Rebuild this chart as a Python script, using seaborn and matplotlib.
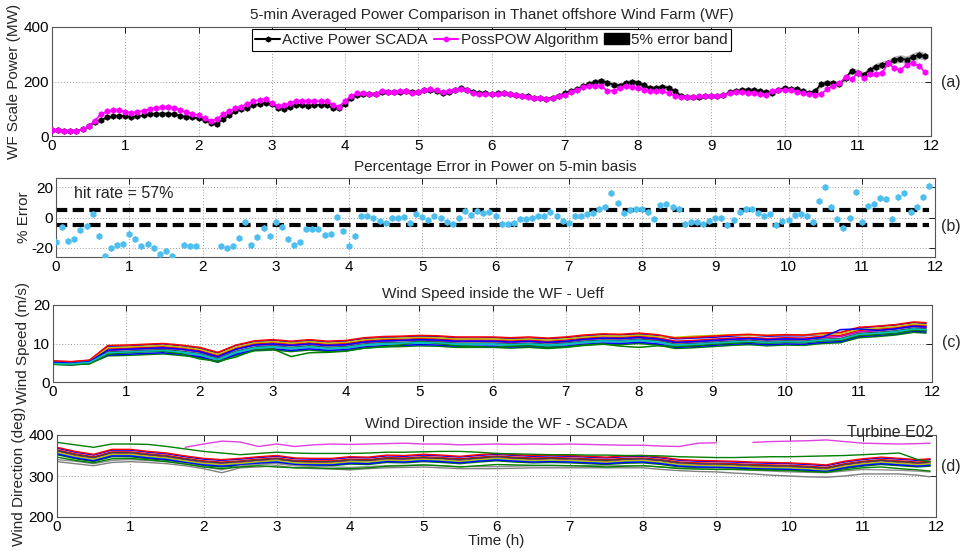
import numpy as np
import matplotlib
matplotlib.use("Agg")
import matplotlib.pyplot as plt
import seaborn as sns
from matplotlib.patches import Patch
from matplotlib.lines import Line2D

sns.set_theme(style="white")
plt.rcParams['font.family'] = ['Liberation Sans', 'DejaVu Sans']
plt.rcParams['axes.unicode_minus'] = False

# ---------------- data ----------------
time_5min = np.arange(144) / 12.0   # 5-min steps, hours

scada_power = [
    22, 21, 20, 19, 20, 24, 36, 52, 60, 68, 72, 74,
    72, 70, 72, 76, 80, 82, 82, 82, 80, 74, 70, 68,
    65, 58, 48, 44, 62, 76, 90, 100, 104, 112, 118, 122,
    116, 103, 98, 108, 115, 112, 111, 113, 115, 114, 103, 102,
    118, 140, 152, 155, 155, 155, 162, 162, 161, 163, 164, 160,
    163, 167, 170, 165, 158, 163, 170, 175, 170, 160, 158, 157,
    154, 156, 156, 154, 151, 148, 145, 141, 138, 137, 141, 148,
    156, 165, 172, 182, 192, 198, 202, 196, 188, 185, 195, 198,
    196, 186, 175, 177, 180, 177, 166, 148, 143, 143, 143, 145,
    148, 146, 150, 160, 165, 168, 168, 167, 165, 160, 158, 170,
    175, 172, 172, 165, 158, 165, 190, 196, 194, 190, 212, 240,
    232, 225, 243, 255, 262, 268, 280, 284, 280, 290, 298, 292]

posspow_power = [
    22, 21, 20, 19, 20, 24, 36, 56, 80, 90, 94, 95,
    88, 85, 87, 93, 99, 103, 105, 105, 103, 95, 87, 82,
    76, 66, 55, 62, 80, 92, 102, 108, 118, 127, 133, 135,
    122, 111, 113, 120, 130, 129, 127, 127, 128, 129, 115, 108,
    128, 148, 156, 156, 155, 155, 165, 162, 161, 165, 165, 158,
    162, 168, 171, 167, 160, 165, 170, 172, 168, 156, 154, 154,
    155, 155, 156, 154, 150, 147, 144, 140, 138, 136, 139, 146,
    152, 161, 170, 178, 183, 184, 184, 165, 166, 175, 182, 180,
    175, 170, 165, 166, 165, 157, 148, 143, 142, 142, 145, 148,
    148, 146, 150, 157, 160, 160, 158, 156, 153, 150, 165, 170,
    168, 167, 162, 157, 153, 152, 155, 172, 185, 195, 215, 208,
    232, 212, 226, 228, 232, 268, 248, 242, 262, 268, 258, 235]

nan = np.nan
error_pct = [
    -16, -6.4, -15.3, -14.2, -8.2, -5.3, 2.2, -12.2, -25.3, -20.4, -17.8, -17.3,
    -11.1, -14.4, -18.7, -17.3, -20, -24, -22.2, -25.3, nan, -18.2, -18.7, -18.7,
    nan, nan, nan, -18.7, -20.4, -18.9, -13.3, -2.7, -17.8, -12.9, -7.1, -12.2,
    -2.7, -6, -14.4, -17.8, -16, -7.6, -7.8, -7.8, -11.6, -10.9, 0.4, -8.9,
    -18.7, -12, 1.3, 0.9, -0.4, -2.2, -3.8, -0.4, -0.4, 0.4, -3.3, 2.2,
    0.4, -1.8, 0.9, 0, -3.1, -4, -0.4, 4, 1.8, 4, 2.9, 3.6,
    0.7, -4.4, -4, -3.3, -1.3, -0.7, 0, 1.1, 0.9, 3.6, 0.7, -2.2,
    -3.3, 0.9, 0.9, 2.4, 2.7, 5.3, 6.9, 16, 9.8, 2.7, 4.9, 5.8,
    5.6, 3.8, -1.1, 8.4, 8.9, 6.9, 5.3, -4, -2.7, -2.7, -4.4, -2.2,
    -0.4, 0, -4.9, -1.8, 3.6, 5.8, 5.6, 2.7, 0.7, 2.4, -4.9, -2,
    -1.6, 1.8, 2.2, 1.3, -3.1, 11.1, 20, 6.7, -1.1, -7.1, -0.4, 16.9,
    -2.7, 7.3, 8.9, 12.9, 12, -0.9, 13.3, 16, 3.6, 6.9, 13.3, 20.9]

hit_rate_text = "hit rate = 57%"
error_band = 5

time_turb = list(np.arange(0, 12, 0.25)) + [11.92]

wind_speed = [
    [5.4,5.2,5.6,9.3,9.3,9.6,9.9,9.3,8.7,7.5,9.5,10.4,10.8,10.3,10.8,10.3,10.6,11.2,11.5,11.7,11.8,11.8,11.5,11.4,11.5,11.3,11.4,11.2,11.5,11.9,12.3,12.2,12.4,12.1,11.2,11.4,11.6,11.9,12.2,11.9,12.0,12.0,12.4,12.7,14.0,14.4,14.8,15.4,15.1],
    [4.6,4.4,4.8,6.8,6.9,7.1,7.3,6.9,6.4,5.1,6.9,8.1,8.3,7.9,8.3,7.9,8.1,8.8,9.1,9.2,9.4,9.3,9.0,9.0,9.0,8.8,9.0,8.7,9.0,9.5,9.8,9.7,10.0,9.6,8.7,8.9,9.2,9.5,9.7,9.4,9.6,9.5,10.0,10.2,11.5,11.8,12.2,12.9,12.7],
    [5.2,5.0,5.4,8.7,8.8,9.0,9.2,8.8,8.2,6.9,8.8,9.9,10.2,9.8,10.2,9.8,10.0,10.7,11.0,11.1,11.3,11.2,10.9,10.9,10.9,10.7,10.9,10.6,10.9,11.4,11.7,11.6,11.9,11.5,10.6,10.8,11.1,11.4,11.6,11.3,11.5,11.4,11.9,12.1,13.4,13.7,14.1,14.8,14.6],
    [4.8,4.6,5.0,7.4,7.6,7.8,8.0,7.6,7.0,5.7,7.6,8.7,9.0,8.6,9.0,8.6,8.8,9.5,9.8,9.9,10.1,10.0,9.7,9.7,9.7,9.5,9.7,9.4,9.7,10.2,10.5,10.4,10.7,10.3,9.4,9.6,9.9,10.2,10.4,10.1,10.3,10.2,10.7,10.9,12.2,12.5,12.9,13.6,13.4],
    [5.1,4.9,5.3,8.1,8.5,8.6,8.7,8.5,7.8,6.4,8.5,9.6,9.7,9.5,9.8,9.4,9.6,10.3,10.5,10.8,10.9,10.7,10.5,10.6,10.5,10.3,10.5,10.2,10.4,11.0,11.3,11.2,11.5,11.0,10.2,10.4,10.7,11.0,11.2,10.9,11.1,11.0,11.5,11.8,13.0,13.3,13.8,14.4,14.1],
    [5.3,5.1,5.5,8.9,9.1,9.3,9.5,9.1,8.5,7.2,9.1,10.2,10.5,10.1,10.5,10.1,10.3,11.0,11.3,11.4,11.6,11.5,11.2,11.2,11.2,11.0,11.2,10.9,11.2,11.7,12.0,11.9,12.2,11.8,11.6,11.9,12.1,12.2,12.2,12.1,12.3,12.2,12.4,12.6,13.7,14.0,14.4,15.1,14.9],
    [4.9,4.7,5.1,7.8,8.0,8.2,8.4,8.0,7.4,6.1,8.0,9.1,9.4,9.0,9.4,9.0,9.2,9.9,10.2,10.3,10.5,10.4,10.1,10.1,10.1,9.9,10.1,9.8,10.1,10.6,10.9,10.8,11.1,10.7,9.8,10.0,10.3,10.6,10.8,10.5,10.7,10.6,11.1,11.3,12.6,12.9,13.3,14.0,13.8],
    [4.7,4.5,4.9,7.0,7.2,7.4,7.6,7.2,6.6,5.3,7.2,8.3,8.6,8.2,8.6,8.2,8.4,9.1,9.4,9.5,9.7,9.6,9.3,9.3,9.3,9.1,9.3,9.0,9.3,9.8,10.1,10.0,10.3,9.9,9.0,9.2,9.5,9.8,10.0,9.7,9.9,9.8,10.3,10.5,11.8,12.1,12.5,13.2,13.0],
    [4.6,4.5,4.7,7.2,7.6,7.9,8.0,7.3,6.0,5.4,6.5,8.3,8.6,6.6,7.6,7.7,8.0,8.8,9.2,9.6,10.6,10.0,9.4,9.2,9.0,9.3,9.4,9.0,9.1,9.6,9.9,9.3,9.0,9.4,9.2,9.4,9.8,10.0,10.3,10.1,10.3,10.2,10.7,10.8,12.0,12.3,12.6,13.4,13.3],
    [5.5,5.3,5.7,9.5,9.6,9.8,10.0,9.6,9.0,7.7,9.6,10.7,11.0,10.6,11.0,10.6,10.8,11.5,11.8,11.9,12.1,12.0,11.7,11.7,11.7,11.5,11.7,11.4,11.7,12.2,12.5,12.4,12.7,12.3,11.4,11.6,11.9,12.2,12.4,12.1,12.3,12.2,12.7,12.9,14.2,14.5,14.9,15.6,15.4],
    [5.1,4.9,5.3,8.3,8.5,8.7,8.9,8.5,7.9,6.6,8.5,9.6,9.9,9.5,9.9,9.5,9.7,10.4,10.7,10.8,11.0,10.9,10.6,10.6,10.6,10.4,10.6,10.3,10.6,11.1,11.4,11.3,11.6,11.2,10.3,10.5,10.8,11.1,11.3,11.0,11.2,11.1,11.6,13.6,13.8,13.4,13.8,14.5,14.3],
    [4.8,4.7,5.1,7.6,7.8,8.0,8.2,7.8,7.2,5.9,7.8,8.9,9.2,8.8,9.2,8.8,9.0,9.7,10.0,10.1,10.3,10.2,9.9,9.9,9.9,9.7,9.9,9.6,9.9,10.4,10.7,10.6,10.9,10.5,9.6,9.8,10.1,10.4,10.6,10.3,10.5,10.4,10.9,11.1,12.4,12.7,13.1,13.8,13.6],
]

wind_dir = [
    [368,358,351,363,363,358,354,347,341,338,341,345,348,342,341,341,345,344,349,348,351,349,346,350,353,350,348,349,348,346,344,347,348,344,338,336,335,334,332,331,330,328,325,334,340,344,341,338,340],
    [352,342,335,347,347,342,338,331,325,322,325,329,332,326,325,325,329,328,333,332,335,333,330,334,337,334,332,333,332,330,328,331,332,328,322,320,319,318,316,315,314,312,309,318,324,328,325,322,324],
    [364,354,347,359,359,354,350,343,337,334,337,341,344,338,337,337,341,340,345,344,347,345,342,346,349,346,344,345,344,342,340,343,344,340,334,332,331,330,328,327,326,324,321,330,336,340,337,334,336],
    [356,346,339,351,351,346,342,335,329,326,329,333,336,330,329,329,333,332,337,336,339,337,334,338,341,338,336,337,336,334,332,335,336,332,326,324,323,322,320,319,318,316,313,322,328,332,329,326,328],
    [361,349,344,356,354,351,345,340,332,331,332,338,339,335,332,334,336,337,340,341,342,342,337,343,344,343,339,342,339,339,335,340,339,337,329,329,326,327,323,324,321,321,316,327,331,337,332,331,331],
    [358,348,341,353,353,348,344,337,331,328,331,335,338,332,331,331,335,334,339,338,341,339,336,340,343,340,338,339,338,336,334,337,338,334,328,326,325,324,322,321,320,318,315,324,330,334,331,328,330],
    [362,352,345,357,357,352,348,341,335,332,335,339,342,336,335,335,339,338,343,342,345,343,340,344,347,344,342,343,342,340,338,341,342,338,332,330,329,328,326,325,324,322,319,328,334,338,335,332,334],
    [354,344,337,349,349,344,340,333,327,324,327,331,334,328,327,327,331,330,335,334,337,335,332,336,339,336,334,335,334,332,330,333,334,330,324,322,321,320,318,317,316,314,311,320,326,330,327,324,326],
    [370,360,353,365,365,360,356,349,343,340,343,347,350,344,343,343,347,346,351,350,353,351,348,352,355,352,350,351,350,348,346,349,350,346,340,338,337,336,334,333,332,330,327,336,342,346,343,340,342],
    [382,376,370,378,378,377,372,366,360,356,352,355,358,356,355,355,355,356,358,358,359,360,360,358,355,354,353,352,352,351,351,350,350,349,347,346,345,345,346,347,347,348,349,350,352,354,356,340,335],
    [nan,nan,nan,nan,nan,nan,nan,370,378,385,383,372,378,372,376,378,377,378,379,380,378,378,376,377,378,377,378,377,378,377,376,375,375,373,372,380,381,nan,382,384,385,386,388,384,380,379,378,379,380],
    [335,330,325,333,335,333,330,325,318,308,320,322,325,320,318,317,315,318,320,321,322,320,318,318,318,319,320,320,320,320,320,320,320,316,313,311,310,307,305,302,300,298,297,300,305,305,305,302,298],
    [340,336,330,338,340,338,335,330,323,315,325,328,330,325,323,322,321,323,325,326,327,325,323,323,323,324,325,325,325,325,325,325,325,322,319,318,318,316,314,312,310,309,308,312,316,315,314,312,310],
    [346,338,332,342,343,339,335,329,322,318,322,325,322,320,320,318,318,320,324,325,327,325,322,325,328,327,326,326,325,324,322,324,325,322,318,317,316,316,315,314,313,311,309,315,320,322,318,315,312],
]

# ---------------- styles ----------------
ML = ['#0000FF', '#008000', '#FF0000', '#00BFBF', '#BF00BF', '#BFBF00', '#404040']
ws_colors = [ML[0], ML[1], ML[2], ML[3], ML[4], ML[5], ML[6], ML[0], ML[1], ML[2], ML[0], ML[3]]
wd_colors = [ML[0], ML[1], ML[2], ML[3], ML[4], ML[5], ML[6], ML[0], ML[2], ML[1], '#E040E0', '#808080', '#909090', ML[1]]
FS = 10

W, H = 966, 557
fig = plt.figure(figsize=(W / 100, H / 100), dpi=100)

def px_axes(l, r, t, b):
    return fig.add_axes([l / W, 1 - b / H, (r - l) / W, (b - t) / H])

axA = px_axes(52, 931, 27, 136)
axB = px_axes(56, 935, 178, 257)
axC = px_axes(53, 932, 305, 382)
axD = px_axes(57, 936, 435, 517)

def style(ax, ylim, yticks):
    ax.set_xlim(0, 12)
    ax.set_ylim(*ylim)
    ax.set_xticks(range(13))
    ax.set_yticks(yticks)
    ax.grid(True, linestyle=(0, (1, 2)), color='#9a9a9a', linewidth=0.7)
    ax.tick_params(direction='in', top=True, right=True, length=4, width=0.6,
                   labelsize=FS + 1, pad=2, colors='black')
    for s in ax.spines.values():
        s.set_color('#555555')
        s.set_linewidth(0.8)
    ax.set_facecolor('white')

# ---- panel a ----
sc = np.array(scada_power, dtype=float)
axA.fill_between(time_5min, sc * (1 - error_band / 100), sc * (1 + error_band / 100),
                 color='#b4b4b4', linewidth=0, zorder=1)
sns.lineplot(x=time_5min, y=scada_power, ax=axA, color='black', lw=1.2,
             marker='h', markersize=4.8, markeredgewidth=0, estimator=None, sort=False, zorder=2)
sns.lineplot(x=time_5min, y=posspow_power, ax=axA, color='#FF00FF', lw=1.2,
             marker='h', markersize=4.8, markeredgewidth=0, estimator=None, sort=False, zorder=3)
style(axA, (0, 400), [0, 200, 400])
axA.set_title("5-min Averaged Power Comparison in Thanet offshore Wind Farm (WF)", fontsize=FS + 1, pad=6)
axA.set_ylabel("WF Scale Power (MW)", fontsize=FS + 1, labelpad=2)
handles = [Line2D([], [], color='black', lw=1.5, marker='h', markersize=4.5, markeredgewidth=0),
           Line2D([], [], color='#FF00FF', lw=1.5, marker='h', markersize=4.5, markeredgewidth=0),
           Patch(facecolor='black', edgecolor='black')]
leg = axA.legend(handles, ["Active Power SCADA", "PossPOW Algorithm", "5% error band"],
                 loc='upper center', ncol=3, fontsize=FS + 1, frameon=True, fancybox=False,
                 edgecolor='black', framealpha=1, borderaxespad=0.15, handlelength=1.6,
                 handletextpad=0.15, columnspacing=0.4, borderpad=0.25)
leg.get_frame().set_linewidth(0.8)

# ---- panel b ----
sns.scatterplot(x=time_5min, y=error_pct, ax=axB, color='#4DBEEE', marker='h', s=26,
                linewidth=0, zorder=3)
for lvl in (error_band, -error_band):
    sns.lineplot(x=[time_5min[0], time_5min[-1]], y=[lvl, lvl], ax=axB, color='black',
                 lw=3.0, linestyle=(0, (2.7, 1.3)), estimator=None, zorder=2)
style(axB, (-26, 26), [-20, 0, 20])
axB.set_title("Percentage Error in Power on 5-min basis", fontsize=FS + 1, pad=5)
axB.set_ylabel("% Error", fontsize=FS + 1, labelpad=0)
axB.text(0.25, 15.5, hit_rate_text, fontsize=FS + 1.5, va='center', ha='left')

# ---- panel c ----
for vals, col in zip(wind_speed, ws_colors):
    sns.lineplot(x=time_turb, y=vals, ax=axC, color=col, lw=1.1, estimator=None, sort=False)
style(axC, (0, 20), [0, 10, 20])
axC.set_title("Wind Speed inside the WF - Ueff", fontsize=FS + 1, pad=5)
axC.set_ylabel("Wind Speed (m/s)", fontsize=FS + 1, labelpad=2)

# ---- panel d ----
tt = np.array(time_turb)
for vals, col in zip(wind_dir, wd_colors):
    v = np.array(vals, dtype=float)
    ok = ~np.isnan(v)
    idx = np.where(ok)[0]
    if len(idx) == 0:
        continue
    breaks = np.where(np.diff(idx) > 1)[0]
    starts = np.r_[0, breaks + 1]
    ends = np.r_[breaks + 1, len(idx)]
    for s0, e0 in zip(starts, ends):
        seg = idx[s0:e0]
        sns.lineplot(x=tt[seg], y=v[seg], ax=axD, color=col, lw=1.0, estimator=None, sort=False)
style(axD, (200, 400), [200, 300, 400])
axD.set_title("Wind Direction inside the WF - SCADA", fontsize=FS + 1, pad=5)
axD.set_ylabel("Wind Direction (deg)", fontsize=FS + 1, labelpad=2)
axD.set_xlabel("Time (h)", fontsize=FS + 1, labelpad=0)
axD.text(11.97, 396, "Turbine E02", fontsize=FS + 1.5, ha='right', va='baseline', zorder=5)

for lab, ypx in [("(a)", 82), ("(b)", 227), ("(c)", 342), ("(d)", 467)]:
    fig.text(951 / W, 1 - ypx / H, lab, fontsize=FS + 1.5, ha='center', va='center')

fig.savefig("out.png", dpi=100, facecolor='white')
